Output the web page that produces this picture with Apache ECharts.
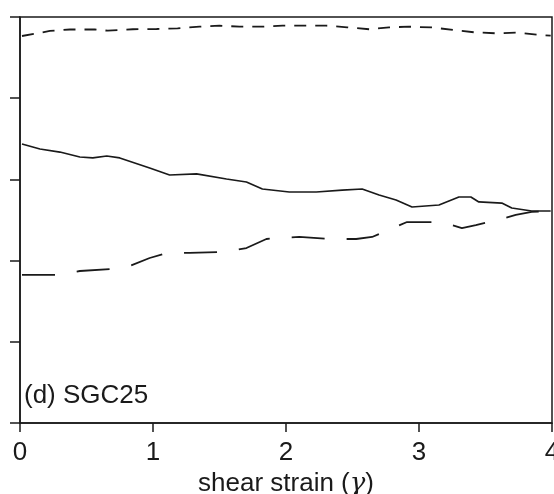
<!DOCTYPE html>
<html>
<head>
<meta charset="utf-8">
<script src="https://cdn.jsdelivr.net/npm/echarts@6/dist/echarts.min.js"></script>
<style>
html,body{margin:0;padding:0;background:#fff;}
#chart{width:554px;height:494px;}
</style>
</head>
<body>
<div id="chart"></div>
<script>
var xTicks = [0, 1, 2, 3, 4];
var panelLabel = '(d) SGC25';
var xAxisTitle = 'shear strain';
var xAxisSymbol = 'γ';

// short-dashed series (top)
var topX = [0.015, 0.225, 0.375, 0.5625, 0.66, 0.848, 1.028, 1.185, 1.35, 1.5, 1.65, 1.823, 1.973, 2.153, 2.303, 2.46, 2.625, 2.775, 2.925, 3.098, 3.263, 3.413, 3.578, 3.735, 3.885, 3.99];
var topY = [4.766, 4.828, 4.846, 4.846, 4.831, 4.849, 4.852, 4.861, 4.881, 4.893, 4.881, 4.881, 4.893, 4.893, 4.893, 4.873, 4.849, 4.873, 4.881, 4.871, 4.840, 4.812, 4.799, 4.807, 4.782, 4.770];

// solid series (middle)
var midX = [0.015, 0.15, 0.3, 0.45, 0.5475, 0.6525, 0.75, 0.975, 1.125, 1.3275, 1.5525, 1.7025, 1.8225, 2.025, 2.2275, 2.4225, 2.5725, 2.7, 2.8275, 2.9475, 3.15, 3.3, 3.39, 3.45, 3.6225, 3.6975, 3.8475, 3.99];
var midY = [3.436, 3.374, 3.337, 3.276, 3.264, 3.288, 3.264, 3.140, 3.054, 3.067, 3.005, 2.968, 2.882, 2.845, 2.845, 2.869, 2.882, 2.808, 2.746, 2.660, 2.685, 2.783, 2.783, 2.722, 2.709, 2.648, 2.611, 2.611];

// long-dashed series (bottom)
var lowX = [0.015, 0.285, 0.45, 0.6975, 0.825, 0.975, 1.1025, 1.275, 1.5225, 1.7025, 1.8525, 1.9275, 2.1, 2.34, 2.5275, 2.6475, 2.7525, 2.91, 3.165, 3.3225, 3.4275, 3.5625, 3.7275, 3.8475, 3.99];
var lowY = [1.823, 1.823, 1.872, 1.897, 1.933, 2.032, 2.094, 2.094, 2.106, 2.155, 2.266, 2.278, 2.291, 2.266, 2.266, 2.291, 2.365, 2.475, 2.475, 2.401, 2.438, 2.488, 2.562, 2.599, 2.611];

function pairs(xs, ys){ return xs.map(function(x,i){ return [x, ys[i]]; }); }

var FONT = 'Liberation Sans';
var INK = '#1a1a1a';
var chart = echarts.init(document.getElementById('chart'), null, {renderer:'canvas'});
chart.setOption({
  animation:false,
  backgroundColor:'#fff',
  grid:{left:20, right:2, top:17, bottom:71, show:true, borderColor:INK, borderWidth:1.5, containLabel:false, outerBoundsMode:'none'},
  xAxis:{
    type:'value', min:xTicks[0], max:xTicks[xTicks.length-1], interval:1,
    axisLine:{show:true, lineStyle:{color:INK, width:1.5}},
    axisTick:{show:true, inside:false, length:9, lineStyle:{color:INK, width:1.5}},
    splitLine:{show:false},
    axisLabel:{show:true, margin:17, fontSize:26, fontFamily:FONT, color:INK, showMaxLabel:true, showMinLabel:true},
    name:'{n|' + xAxisTitle + ' (}{g|' + xAxisSymbol + '}{n|)}',
    nameLocation:'middle', nameGap:42,
    nameTextStyle:{rich:{n:{fontSize:26, fontFamily:FONT, color:INK}, g:{fontSize:26, fontFamily:'DejaVu Serif', fontStyle:'italic', color:INK}}}
  },
  yAxis:{
    type:'value', min:0, max:5, interval:1,
    axisLine:{show:true, lineStyle:{color:INK, width:1.5}},
    axisTick:{show:true, inside:false, length:10, lineStyle:{color:INK, width:1.5}},
    splitLine:{show:false},
    axisLabel:{show:false}
  },
  graphic:[{type:'text', left:24, top:383, style:{text:panelLabel, font:'26px "' + FONT + '"', fill:INK}}],
  series:[
    {type:'line', data:pairs(topX, topY), showSymbol:false, smooth:false, lineStyle:{color:INK, width:1.8, type:[12,9]}},
    {type:'line', data:pairs(midX, midY), showSymbol:false, smooth:false, lineStyle:{color:INK, width:1.7, type:'solid'}},
    {type:'line', data:pairs(lowX, lowY), showSymbol:false, smooth:false, lineStyle:{color:INK, width:1.8, type:[33,22]}}
  ]
});
</script>
</body>
</html>
